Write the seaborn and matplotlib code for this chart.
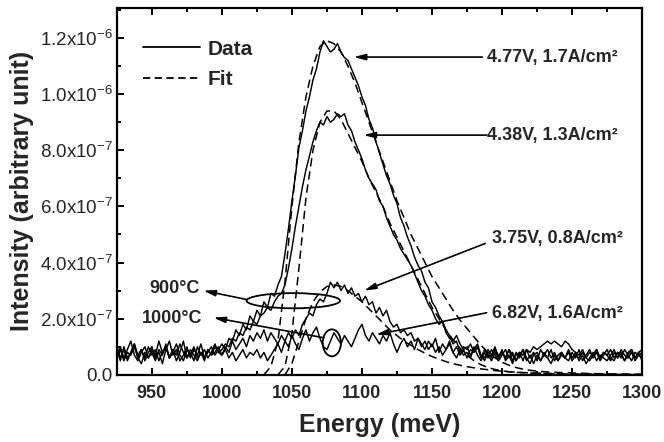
import numpy as np
import pandas as pd
import matplotlib
matplotlib.use("Agg")
import matplotlib.pyplot as plt
import seaborn as sns
from matplotlib.patches import Ellipse
from matplotlib.lines import Line2D
from matplotlib.ticker import MultipleLocator, FuncFormatter

# ---------------- data (intensity in units of 1e-7) ----------------
energy = list(np.arange(925.0, 1300.1, 2.5))   # meV, 151 points

data_477 = [0.9, 0.5, 1.0, 0.6, 0.8, 1.1, 0.6, 0.9, 0.5, 0.8,
            1.0, 0.6, 0.8, 0.4, 0.9, 1.2, 0.7, 0.9, 0.5, 0.7,
            1.0, 0.6, 0.9, 0.7, 1.1, 0.6, 0.8, 1.0, 0.7, 0.9,
            1.1, 0.9, 1.3, 1.2, 1.6, 1.4, 1.8, 1.6, 2.1, 1.9,
            2.3, 2.1, 2.6, 2.4, 2.9, 2.8, 3.2, 3.5, 4.3, 5.2,
            6.2, 7.1, 8.1, 8.7, 9.4, 9.9, 10.5, 10.9, 11.5, 11.9,
            11.7, 11.5, 11.6, 11.8, 11.5, 11.3, 11.2, 10.9, 10.6, 10.3,
            9.9, 9.6, 9.1, 8.8, 8.3, 7.9, 7.5, 7.1, 6.8, 6.4,
            6.1, 5.6, 5.3, 4.9, 4.6, 4.2, 3.9, 3.7, 3.3, 3.1,
            2.6, 2.4, 2.1, 1.9, 1.6, 1.4, 1.1, 1.2, 0.8, 1.0,
            0.9, 1.1, 0.8, 1.0, 0.6, 0.9, 0.7, 0.5, 0.8, 0.6,
            0.9, 0.5, 0.7, 0.4, 0.8, 0.6, 0.9, 0.5, 0.7, 0.4,
            0.7, 0.5, 0.8, 0.6, 0.4, 0.7, 0.5, 0.8, 0.6, 0.9,
            0.6, 0.8, 0.5, 0.7, 0.4, 0.6, 0.8, 0.5, 0.7, 0.6,
            0.5, 0.7, 0.9, 0.6, 0.8, 0.5, 0.7, 0.9, 0.6, 0.8,
            0.5]

data_438 = [0.7, 1.0, 0.6, 0.9, 1.2, 0.7, 0.5, 0.8, 1.0, 0.6,
            0.8, 0.5, 0.9, 0.7, 1.1, 0.6, 0.9, 0.5, 0.8, 1.2,
            0.6, 0.8, 0.5, 1.0, 0.7, 0.9, 0.6, 0.8, 1.1, 0.8,
            0.9, 1.1, 1.0, 1.3, 1.2, 1.5, 1.4, 1.7, 1.6, 1.9,
            1.8, 2.1, 2.2, 2.4, 2.3, 2.6, 2.8, 2.9, 3.2, 3.8,
            4.5, 5.3, 6.0, 6.7, 7.3, 7.8, 8.3, 8.7, 9.0, 8.9,
            9.2, 9.0, 9.1, 9.3, 9.2, 9.3, 8.9, 8.7, 8.3, 8.0,
            7.7, 7.3, 7.0, 6.8, 6.6, 6.2, 6.0, 5.6, 5.3, 5.0,
            4.8, 4.5, 4.3, 4.1, 3.9, 3.6, 3.3, 3.0, 2.8, 2.5,
            2.3, 2.0, 1.8, 1.9, 1.5, 1.3, 1.2, 1.4, 1.1, 0.9,
            1.0, 0.7, 0.9, 1.1, 0.7, 0.6, 0.9, 0.7, 1.0, 0.6,
            0.8, 0.6, 0.9, 0.5, 0.7, 0.8, 0.5, 0.9, 0.6, 0.8,
            0.5, 0.9, 0.7, 0.6, 0.9, 0.5, 0.7, 0.8, 0.6, 0.5,
            0.8, 0.6, 0.9, 0.5, 0.7, 0.9, 0.6, 0.8, 0.5, 0.7,
            0.9, 0.6, 0.5, 0.8, 0.6, 0.9, 0.7, 0.5, 0.8, 0.7,
            0.6]

data_375 = [1.0, 0.6, 0.9, 0.5, 0.8, 1.1, 0.7, 0.9, 0.6, 1.0,
            0.7, 0.9, 0.5, 0.8, 1.0, 0.6, 0.8, 1.1, 0.7, 0.5,
            0.9, 0.7, 1.0, 0.6, 0.8, 0.5, 0.9, 0.7, 1.0, 0.8,
            0.7, 1.0, 0.8, 1.2, 0.9, 1.1, 1.3, 1.0, 1.4, 1.2,
            1.5, 1.3, 1.6, 1.2, 1.5, 1.3, 1.1, 1.4, 1.2, 1.5,
            1.3, 1.6, 1.4, 1.8, 2.0, 2.2, 2.1, 2.5, 2.7, 2.6,
            2.9, 3.3, 3.1, 3.3, 3.0, 3.2, 2.9, 3.1, 2.8, 2.9,
            2.6, 2.8, 2.5, 2.6, 2.2, 2.4, 2.1, 2.3, 1.9, 1.7,
            1.8, 1.5, 1.6, 1.4, 1.5, 1.2, 1.3, 1.0, 1.2, 0.9,
            1.1, 0.8, 1.0, 0.7, 0.9, 1.1, 0.8, 0.6, 0.9, 0.7,
            0.8, 0.6, 1.0, 0.7, 0.5, 0.8, 0.6, 0.9, 0.7, 0.5,
            0.7, 0.9, 0.6, 0.8, 0.5, 0.7, 0.9, 0.6, 0.4, 0.7,
            0.8, 0.5, 0.7, 0.9, 0.6, 0.8, 0.5, 0.7, 0.6, 0.8,
            0.5, 0.7, 0.6, 0.8, 0.6, 0.5, 0.7, 0.9, 0.6, 0.8,
            0.7, 0.5, 0.8, 0.6, 0.9, 0.7, 0.6, 0.8, 0.5, 0.7,
            0.8]

data_682 = [0.6, 0.9, 0.5, 0.8, 0.7, 1.0, 0.6, 0.4, 0.8, 0.6,
            0.9, 0.7, 1.2, 0.8, 1.0, 0.6, 0.9, 0.7, 1.1, 0.8,
            0.6, 0.9, 0.7, 0.5, 0.8, 0.6, 0.9, 0.7, 0.8, 1.0,
            0.7, 0.9, 0.6, 0.8, 0.5, 0.7, 0.9, 0.6, 0.8, 0.7,
            0.9, 0.6, 0.8, 0.5, 0.7, 0.9, 1.1, 0.8, 1.2, 1.0,
            1.4, 1.1, 0.9, 1.3, 1.6, 1.2, 1.5, 1.7, 1.3, 1.0,
            0.9, 1.2, 1.5, 1.3, 1.1, 1.4, 1.2, 1.0, 1.3, 1.6,
            1.8, 1.4, 1.2, 1.5, 1.3, 1.1, 1.4, 1.2, 1.5, 1.1,
            0.8, 1.1, 1.3, 1.0, 1.2, 0.9, 1.3, 1.1, 0.9, 1.2,
            1.0, 1.3, 0.8, 1.1, 0.9, 1.2, 0.8, 1.0, 0.7, 0.9,
            0.6, 0.9, 0.8, 1.0, 0.7, 0.5, 0.8, 0.6, 0.9, 0.7,
            0.8, 0.6, 0.9, 0.7, 0.5, 0.8, 0.7, 0.9, 0.8, 1.0,
            0.9, 1.0, 1.1, 1.2, 1.1, 1.2, 1.1, 1.0, 1.2, 1.1,
            0.9, 0.8, 0.7, 0.9, 0.6, 0.8, 0.7, 0.9, 0.6, 0.8,
            0.7, 0.9, 0.6, 0.8, 0.7, 0.5, 0.8, 0.9, 0.6, 0.8,
            0.9]

fit_e_477 = list(range(1030, 1301, 5))
fit_477 = [0.0, 0.3, 1.2, 3.3, 6.0, 8.3, 9.9, 11.0, 11.7, 11.9,
           11.8, 11.5, 11.0, 10.4, 9.7, 9.0, 8.3, 7.6, 6.9, 6.2,
           5.6, 5.0, 4.5, 4.0, 3.5, 3.1, 2.7, 2.3, 1.95, 1.65,
           1.35, 1.05, 0.8, 0.6, 0.45, 0.34, 0.26, 0.2, 0.16, 0.13,
           0.11, 0.095, 0.085, 0.075, 0.065, 0.058, 0.05, 0.045, 0.04, 0.035,
           0.03, 0.027, 0.024, 0.021, 0.018]

fit_e_438 = list(range(1040, 1301, 5))
fit_438 = [0.0, 0.3, 1.5, 3.8, 6.3, 8.0, 9.0, 9.4, 9.4, 9.1,
           8.6, 8.1, 7.6, 7.0, 6.5, 6.0, 5.4, 4.9, 4.4, 3.9,
           3.4, 2.9, 2.4, 2.0, 1.6, 1.25, 0.95, 0.7, 0.5, 0.36,
           0.26, 0.19, 0.14, 0.11, 0.09, 0.075, 0.065, 0.055, 0.048, 0.042,
           0.037, 0.033, 0.03, 0.027, 0.024, 0.022, 0.02, 0.018, 0.016, 0.015,
           0.014, 0.013, 0.012]

fit_e_375 = list(range(1045, 1301, 5))
fit_375 = [0.0, 0.4, 1.2, 2.0, 2.6, 2.95, 3.15, 3.2, 3.15, 3.0,
           2.8, 2.6, 2.35, 2.1, 1.85, 1.6, 1.4, 1.2, 1.05, 0.9,
           0.77, 0.65, 0.56, 0.47, 0.4, 0.34, 0.29, 0.25, 0.21, 0.18,
           0.15, 0.13, 0.11, 0.095, 0.08, 0.07, 0.06, 0.05, 0.042, 0.035,
           0.03, 0.025, 0.021, 0.018, 0.015, 0.012, 0.01, 0.009, 0.008, 0.007,
           0.006, 0.005]

labels_series = ["4.77V, 1.7A/cm²", "4.38V, 1.3A/cm²", "3.75V, 0.8A/cm²", "6.82V, 1.6A/cm²"]
SCALE = 1e-7

# ---------------- style ----------------
sns.set_style("ticks")
plt.rcParams['font.family'] = ['Liberation Sans', 'DejaVu Sans']
plt.rcParams['mathtext.fontset'] = 'custom'
plt.rcParams['mathtext.rm'] = 'Liberation Sans'
plt.rcParams['mathtext.default'] = 'regular'

fig = plt.figure(figsize=(6.64, 4.42), dpi=100)
ax = fig.add_axes([0.176, 0.152, 0.791, 0.830])

data_series = [data_477, data_438, data_375, data_682]
for vals in data_series:
    assert len(vals) == len(energy), (len(vals), len(energy))
    df = pd.DataFrame({"E": energy, "I": np.array(vals) * SCALE})
    sns.lineplot(data=df, x="E", y="I", color="black", lw=1.05, ax=ax, legend=False)

for fe, fv in [(fit_e_477, fit_477), (fit_e_438, fit_438), (fit_e_375, fit_375)]:
    assert len(fe) == len(fv), (len(fe), len(fv))
    df = pd.DataFrame({"E": fe, "I": np.array(fv) * SCALE})
    sns.lineplot(data=df, x="E", y="I", color="black", lw=1.1, ax=ax, legend=False,
                 linestyle=(0, (5.5, 3.2)))

ax.set_xlim(925, 1300)
ax.set_ylim(0, 1.307e-6)

ax.xaxis.set_major_locator(MultipleLocator(50))
ax.xaxis.set_minor_locator(MultipleLocator(25))
ax.yaxis.set_major_locator(MultipleLocator(2e-7))
ax.yaxis.set_minor_locator(MultipleLocator(1e-7))


def yfmt(v, pos):
    if abs(v) < 1e-12:
        return "0.0"
    exp = int(np.floor(np.log10(abs(v)) + 1e-9))
    mant = v / 10 ** exp
    return f"{mant:.1f}x10$^{{{exp}}}$"


ax.yaxis.set_major_formatter(FuncFormatter(yfmt))

for s in ax.spines.values():
    s.set_linewidth(1.6)
    s.set_color("black")

ax.tick_params(which="both", direction="in", top=True, right=False, width=1.4, color="black")
ax.tick_params(which="major", length=5)
ax.tick_params(which="minor", length=3)
ax.tick_params(axis="x", which="major", pad=7, labelsize=13)
ax.tick_params(axis="y", which="major", pad=3, labelsize=13.5)
for lab in ax.get_xticklabels():
    lab.set_fontweight("bold")

ax.set_xlabel("Energy (meV)", fontsize=18, fontweight="bold", labelpad=8)
ax.set_ylabel("Intensity (arbitrary unit)", fontsize=18, fontweight="bold", labelpad=4)

# legend
handles = [Line2D([], [], color="black", lw=1.3),
           Line2D([], [], color="black", lw=1.3, linestyle=(0, (4, 2.5)))]
ax.legend(handles, ["Data", "Fit"], loc="upper left", bbox_to_anchor=(0.015, 0.965),
          frameon=False, handlelength=2.7, handletextpad=0.4, labelspacing=0.55,
          prop={"size": 15, "weight": "bold"})

# annotations
arrow_kw = dict(arrowstyle="-|>,head_length=0.7,head_width=0.18", color="black", lw=1.2,
                shrinkA=0, shrinkB=0)
txt_kw = dict(fontsize=13, fontweight="bold", va="center")

ax.annotate("", xy=(1094, 1.132e-6), xytext=(1186, 1.132e-6), arrowprops=arrow_kw)
ax.text(1189, 1.132e-6, labels_series[0], ha="left", **txt_kw)
ax.annotate("", xy=(1101, 0.854e-6), xytext=(1189, 0.854e-6), arrowprops=arrow_kw)
ax.text(1189, 0.854e-6, labels_series[1], ha="left", **txt_kw)
ax.annotate("", xy=(1101.5, 0.30e-6), xytext=(1188, 0.468e-6), arrowprops=arrow_kw)
ax.text(1192.5, 0.486e-6, labels_series[2], ha="left", **txt_kw)
ax.annotate("", xy=(1110, 0.143e-6), xytext=(1189, 0.221e-6), arrowprops=arrow_kw)
ax.text(1192.5, 0.218e-6, labels_series[3], ha="left", **txt_kw)

ax.add_patch(Ellipse((1051, 0.264e-6), 66.7, 0.054e-6, fill=False, ec="black", lw=1.3))
ax.add_patch(Ellipse((1078.5, 0.114e-6), 13, 0.096e-6, fill=False, ec="black", lw=1.3))
ax.annotate("", xy=(986.7, 0.30e-6), xytext=(1018, 0.268e-6), arrowprops=arrow_kw)
ax.text(984.5, 0.307e-6, "900°C", ha="right", **txt_kw)
ax.annotate("", xy=(993.9, 0.204e-6), xytext=(1072.8, 0.132e-6), arrowprops=arrow_kw)
ax.text(986, 0.200e-6, "1000°C", ha="right", **txt_kw)

fig.savefig("out.png", dpi=100)
